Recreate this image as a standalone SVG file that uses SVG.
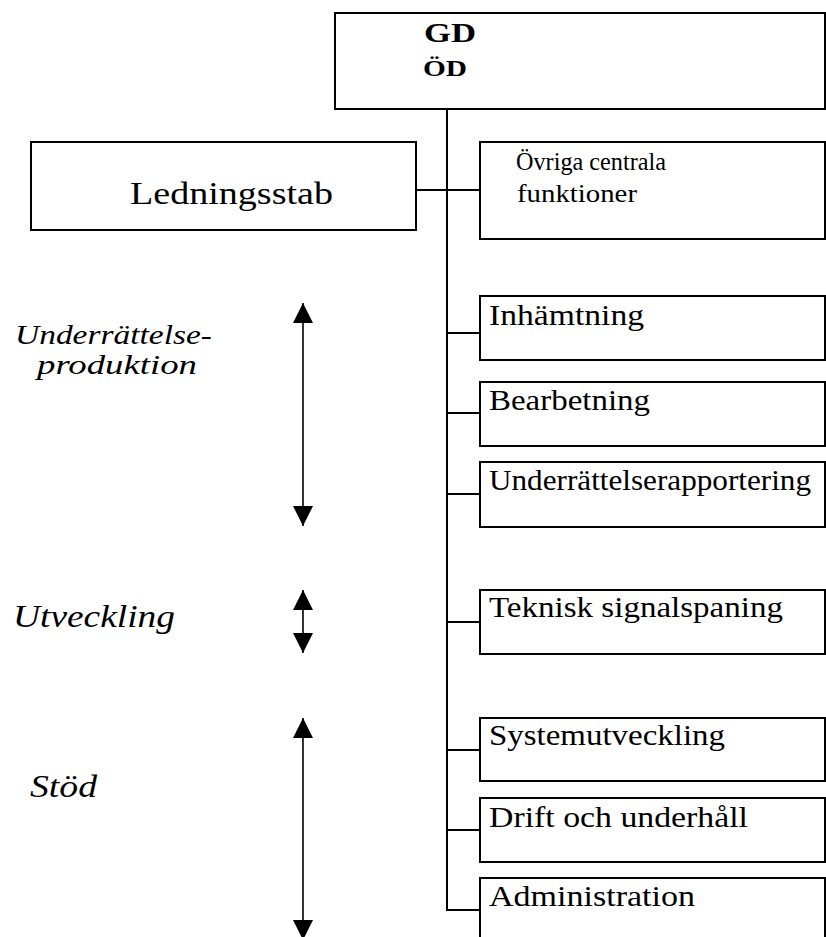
<svg xmlns="http://www.w3.org/2000/svg" width="826" height="937" viewBox="0 0 826 937">
<style>
.box{fill:#fff;stroke:#000;stroke-width:2}
.ln{stroke:#000;stroke-width:2;fill:none}
.t{font-family:"Liberation Serif","Times New Roman",serif;font-size:30px;fill:#000}
.it{font-family:"Liberation Serif","Times New Roman",serif;font-size:32px;font-style:italic;fill:#000}
.arr{stroke:#000;stroke-width:1.6;fill:none;marker-start:url(#ah);marker-end:url(#ah)}
</style>
<defs>
<marker id="ah" markerUnits="userSpaceOnUse" markerWidth="20" markerHeight="20" viewBox="0 0 20 20" refX="20" refY="10" orient="auto-start-reverse">
<path d="M0,0 L20,10 L0,20 Z" fill="#000"/>
</marker>
</defs>
<rect width="826" height="937" fill="#fff"/>
<g id="connectors">
<path class="ln" d="M447,109 V910 H480"/>
<path class="ln" d="M416,190 H480"/>
<path class="ln" d="M447,333 H480 M447,413 H480 M447,494 H480 M447,622 H480 M447,750 H480 M447,830 H480"/>
</g>
<g id="gd">
<rect class="box" x="335" y="13" width="490" height="96"/>
<text class="t" x="424" y="42" style="font-size:28px;font-weight:bold" textLength="52" lengthAdjust="spacingAndGlyphs">GD</text>
<text class="t" x="423" y="76" style="font-size:24px;font-weight:bold" textLength="44" lengthAdjust="spacingAndGlyphs">ÖD</text>
</g>
<g id="ledningsstab">
<rect class="box" x="31" y="142" width="385" height="88"/>
<text class="t" x="130" y="204" style="font-size:32px" textLength="203" lengthAdjust="spacingAndGlyphs">Ledningsstab</text>
</g>
<g id="ovriga">
<rect class="box" x="480" y="142" width="345" height="97"/>
<text class="t" x="516" y="170" style="font-size:26px" textLength="150" lengthAdjust="spacingAndGlyphs">Övriga centrala</text>
<text class="t" x="517" y="202" style="font-size:26px" textLength="120" lengthAdjust="spacingAndGlyphs">funktioner</text>
</g>
<g id="inhamtning">
<rect class="box" x="480" y="296" width="345" height="64"/>
<text class="t" x="489" y="325" textLength="155" lengthAdjust="spacingAndGlyphs">Inhämtning</text>
</g>
<g id="bearbetning">
<rect class="box" x="480" y="382" width="345" height="64"/>
<text class="t" x="489" y="410" textLength="161" lengthAdjust="spacingAndGlyphs">Bearbetning</text>
</g>
<g id="rapportering">
<rect class="box" x="480" y="462" width="345" height="65"/>
<text class="t" x="489" y="490" textLength="322" lengthAdjust="spacingAndGlyphs">Underrättelserapportering</text>
</g>
<g id="teknisk">
<rect class="box" x="480" y="590" width="345" height="64"/>
<text class="t" x="489" y="617" textLength="294" lengthAdjust="spacingAndGlyphs">Teknisk signalspaning</text>
</g>
<g id="systemutveckling">
<rect class="box" x="480" y="718" width="345" height="63"/>
<text class="t" x="489" y="745" textLength="236" lengthAdjust="spacingAndGlyphs">Systemutveckling</text>
</g>
<g id="drift">
<rect class="box" x="480" y="798" width="345" height="64"/>
<text class="t" x="489" y="827" textLength="259" lengthAdjust="spacingAndGlyphs">Drift och underhåll</text>
</g>
<g id="administration">
<rect class="box" x="480" y="878" width="345" height="80"/>
<text class="t" x="489" y="906" textLength="206" lengthAdjust="spacingAndGlyphs">Administration</text>
</g>
<g id="phases">
<line class="arr" x1="303" y1="303" x2="303" y2="526"/>
<line class="arr" x1="303" y1="590" x2="303" y2="653"/>
<line class="arr" x1="303" y1="718" x2="303" y2="940"/>
<text class="it" x="15" y="344" style="font-size:27px" textLength="197" lengthAdjust="spacingAndGlyphs">Underrättelse-</text>
<text class="it" x="37" y="374" style="font-size:27px" textLength="160" lengthAdjust="spacingAndGlyphs">produktion</text>
<text class="it" x="13" y="627" textLength="162" lengthAdjust="spacingAndGlyphs">Utveckling</text>
<text class="it" x="30" y="797" textLength="67" lengthAdjust="spacingAndGlyphs">Stöd</text>
</g>
</svg>
